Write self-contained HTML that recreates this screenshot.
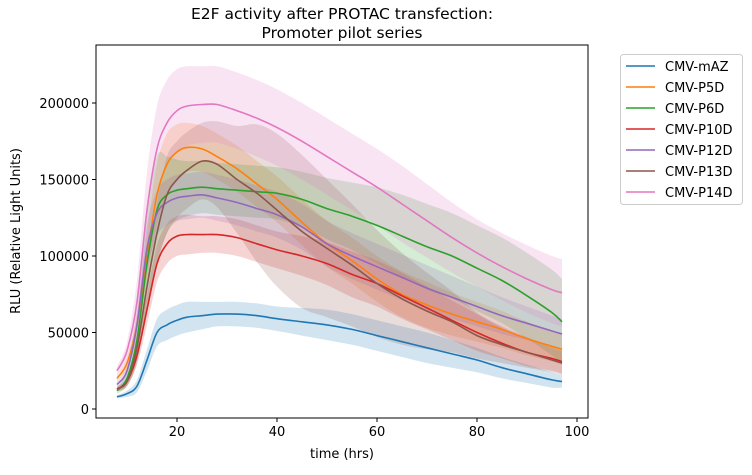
<!DOCTYPE html>
<html><head><meta charset="utf-8"><style>
body{margin:0;background:#fff;}
svg text{font-family:"DejaVu Sans","Liberation Sans",sans-serif;fill:#000;}
</style></head><body>
<svg id="chart" width="752" height="470" viewBox="0 0 752 470" xmlns="http://www.w3.org/2000/svg">
<text x="342" y="19" font-size="15.5" text-anchor="middle">E2F activity after PROTAC transfection:</text>
<text x="342" y="38" font-size="15.5" text-anchor="middle">Promoter pilot series</text>
<g id="bands"></g><g id="lines"></g><g id="axes"></g><g id="legend"></g>
</svg>
<script>
const times=[8,10,12,14,16,18,20,22,25,28,32,36,40,45,50,55,60,65,70,75,80,85,90,95,97];
const seriesNames=["CMV-mAZ","CMV-P5D","CMV-P6D","CMV-P10D","CMV-P12D","CMV-P13D","CMV-P14D"];
const colors=["#1f77b4","#ff7f0e","#2ca02c","#d62728","#9467bd","#8c564b","#e377c2"];
const meanMAZ=[8000,10000,15000,32000,50000,55000,58000,60000,61000,62000,62000,61000,59000,57000,55000,52000,48000,44000,40000,36000,32000,27000,23000,19000,18000];
const meanP5D=[20000,30000,55000,100000,140000,160000,168000,171000,170000,165000,157000,147000,137000,122000,108000,97000,85000,75000,68000,62000,57000,52000,46000,41000,39000];
const meanP6D=[12000,20000,45000,95000,130000,140000,143000,144000,145000,144000,143000,142000,141000,137000,131000,126000,120000,113000,106000,100000,92000,84000,74000,63000,57000];
const meanP10D=[13000,18000,35000,65000,95000,108000,113000,114000,114000,114000,112000,108000,104000,100000,95000,88000,82000,74000,66000,58000,50000,43000,37000,33000,31000];
const meanP12D=[16000,25000,55000,105000,128000,135000,138000,139000,140000,138000,135000,131000,127000,119000,108000,100000,93000,86000,79000,73000,67000,61000,56000,51000,49000];
const meanP13D=[13000,18000,40000,80000,115000,140000,150000,156000,162000,160000,150000,141000,130000,116000,105000,94000,82000,72000,64000,57000,48000,42000,37000,32000,30000];
const meanP14D=[25000,38000,70000,130000,170000,187000,195000,198000,199000,199000,195000,190000,184000,175000,165000,155000,145000,134000,123000,112000,102000,93000,85000,78000,76000];
const sdMAZ=[1000,2000,4000,7000,9000,10000,10000,10000,9000,8000,8000,8000,8000,9000,10000,10000,10000,10000,10000,9000,8000,7000,6000,5000,4000];
const sdP5D=[2000,4000,8000,15000,20000,20000,18000,16000,15000,15000,15000,15000,15000,15000,15000,15000,15000,15000,15000,14000,13000,12000,11000,10000,10000];
const sdP6D=[2000,5000,15000,30000,35000,25000,20000,18000,17000,17000,17000,17000,17000,18000,20000,22000,25000,27000,28000,28000,28000,28000,28000,28000,28000];
const sdP10D=[1500,3000,6000,10000,12000,13000,13000,13000,12000,12000,12000,12000,12000,13000,14000,15000,15000,15000,14000,13000,12000,10000,9000,8000,8000];
const sdP12D=[2000,4000,10000,15000,15000,15000,15000,15000,15000,15000,15000,15000,15000,15000,15000,15000,15000,15000,15000,14000,13000,12000,11000,10000,10000];
const sdP13D=[1500,3000,8000,15000,20000,25000,25000,25000,25000,28000,35000,45000,50000,50000,45000,40000,35000,30000,25000,20000,15000,12000,10000,8000,8000];
const sdP14D=[3000,6000,15000,25000,28000,28000,27000,26000,25000,25000,25000,25000,25000,25000,25000,25000,25000,25000,24000,23000,22000,22000,22000,22000,22000];
const xTicks=[20,40,60,80,100];
const yTicks=[0,50000,100000,150000,200000];

const means=[meanMAZ,meanP5D,meanP6D,meanP10D,meanP12D,meanP13D,meanP14D];
const sds=[sdMAZ,sdP5D,sdP6D,sdP10D,sdP12D,sdP13D,sdP14D];
const L=96,R=588,T=45,B=418;
const xs=t=>77+t*5;
const ys=v=>409-v*0.00153;
const NS="http://www.w3.org/2000/svg";
function mk(tag,attrs,parent){const e=document.createElementNS(NS,tag);for(const k in attrs)e.setAttribute(k,attrs[k]);parent.appendChild(e);return e;}
function spline(pts,start){
  let d=start?("M"+pts[0][0].toFixed(1)+","+pts[0][1].toFixed(1)):("L"+pts[0][0].toFixed(1)+","+pts[0][1].toFixed(1));
  for(let i=0;i<pts.length-1;i++){
    const p0=pts[Math.max(0,i-1)],p1=pts[i],p2=pts[i+1],p3=pts[Math.min(pts.length-1,i+2)];
    const c1=[p1[0]+(p2[0]-p0[0])/6,p1[1]+(p2[1]-p0[1])/6];
    const c2=[p2[0]-(p3[0]-p1[0])/6,p2[1]-(p3[1]-p1[1])/6];
    d+="C"+c1[0].toFixed(1)+","+c1[1].toFixed(1)+" "+c2[0].toFixed(1)+","+c2[1].toFixed(1)+" "+p2[0].toFixed(1)+","+p2[1].toFixed(1);
  }
  return d;
}
const bands=document.getElementById('bands'),lines=document.getElementById('lines'),axes=document.getElementById('axes'),legend=document.getElementById('legend');
means.forEach((m,si)=>{
  const hi=times.map((t,i)=>[xs(t),ys(m[i]+sds[si][i])]);
  const lo=times.map((t,i)=>[xs(t),ys(m[i]-sds[si][i])]).reverse();
  const b=mk('path',{d:spline(hi,true)+spline(lo,false)+"Z",fill:colors[si],'fill-opacity':0.2,stroke:'none'},bands);
  
  
});
means.forEach((m,si)=>{
  const pts=times.map((t,i)=>[xs(t),ys(m[i])]);
  const p=mk('path',{d:spline(pts,true),fill:'none',stroke:colors[si],'stroke-width':1.6},lines);
  
  
});
const frame=mk('rect',{x:L,y:T,width:R-L,height:B-T,fill:'none',stroke:'#000','stroke-width':1},axes);


xTicks.forEach(v=>{
  const x=xs(v);
  mk('line',{x1:x,x2:x,y1:B,y2:B+4,stroke:'#000'},axes);
  const t=mk('text',{x:x,y:B+18,'font-size':13,'text-anchor':'middle'},axes);t.textContent=v;
  
  
});
yTicks.forEach(v=>{
  const y=ys(v);
  mk('line',{x1:L-4,x2:L,y1:y,y2:y,stroke:'#000'},axes);
  const t=mk('text',{x:L-7,y:y+5,'font-size':13,'text-anchor':'end'},axes);t.textContent=v;
  
  
});
const xl=mk('text',{x:342,y:458,'font-size':13,'text-anchor':'middle'},axes);xl.textContent="time (hrs)";


const yl=mk('text',{x:20,y:231,'font-size':13,'text-anchor':'middle',transform:'rotate(-90 20 231)'},axes);yl.textContent="RLU (Relative Light Units)";


const lb=mk('rect',{x:620.5,y:54.5,width:122,height:150,rx:3,fill:'#fff',stroke:'#ccc'},legend);


seriesNames.forEach((n,i)=>{
  const y=66+i*21;
  const g=mk('g',{},legend);
  
  
  mk('line',{x1:626,x2:655,y1:y,y2:y,stroke:colors[i],'stroke-width':1.6},g);
  const t=mk('text',{x:665,y:y+5,'font-size':13},g);t.textContent=n;
});
</script>
</body></html>
